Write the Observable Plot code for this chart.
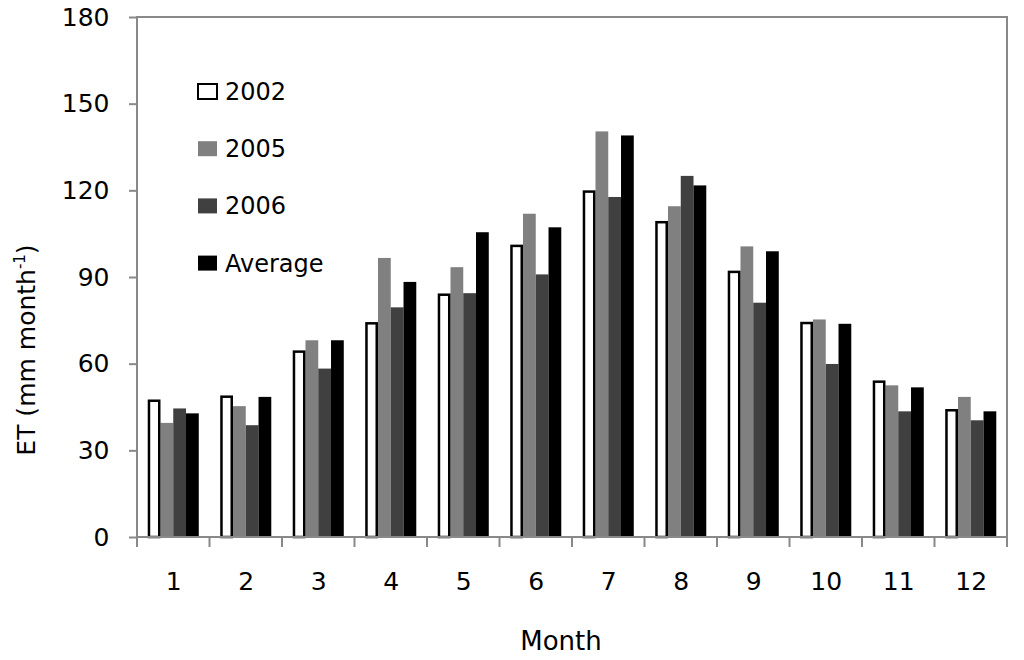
<!DOCTYPE html>
<html>
<head>
<meta charset="utf-8">
<script src="https://cdn.jsdelivr.net/npm/d3@7"></script>
<script src="https://cdn.jsdelivr.net/npm/@observablehq/plot@0.6"></script>
<style>
  html, body { margin: 0; padding: 0; background: #fff; }
  #chart { width: 1024px; height: 660px; }
</style>
</head>
<body>
<div id="chart"></div>
<script>
const months = [1, 2, 3, 4, 5, 6, 7, 8, 9, 10, 11, 12];
const series = ["2002", "2005", "2006", "Average"];
const et2002 = [47.6, 49.0, 64.6, 74.4, 84.3, 101.2, 120.0, 109.4, 92.2, 74.5, 54.2, 44.3];
const et2005 = [39.5, 45.3, 68.1, 96.6, 93.4, 111.9, 140.4, 114.5, 100.6, 75.3, 52.5, 48.5];
const et2006 = [44.5, 38.7, 58.3, 79.5, 84.4, 90.9, 117.7, 125.0, 81.1, 59.9, 43.5, 40.4];
const etAvg  = [42.8, 48.5, 68.1, 88.3, 105.5, 107.2, 139.0, 121.7, 98.9, 73.8, 51.8, 43.5];
const yTicks = [0, 30, 60, 90, 120, 150, 180];
const seriesColors = ["#ffffff", "#808080", "#404040", "#000000"];
const yLabel = "ET (mm month";
const yLabelSup = "-1";
const xLabel = "Month";

(function () {
const valuesBySeries = [et2002, et2005, et2006, etAvg];
const data = [];
series.forEach((s, si) => {
  months.forEach((m, mi) => data.push({month: m, series: s, value: valuesBySeries[si][mi]}));
});

const FONT = "DejaVu Sans";
const AXIS_GRAY = "#898989";

const chart = Plot.plot({
  width: 1024,
  height: 660,
  marginLeft: 137,
  marginRight: 17,
  marginTop: 17,
  marginBottom: 123,
  style: {fontFamily: FONT, fontSize: "25px", color: "#000", background: "#fff", overflow: "visible"},
  fx: {domain: months, padding: 0, round: false},
  x: {domain: series, paddingInner: 0, paddingOuter: 0.84, round: false, axis: null},
  y: {domain: [0, 180], round: false},
  color: {domain: series, range: seriesColors},
  marks: [
    Plot.barY(data.filter(d => d.series !== "2002"), {
      fx: "month", x: "series", y: "value", fill: "series"
    }),
    Plot.barY(data.filter(d => d.series === "2002"), {
      fx: "month", x: "series", y: "value", fill: "series",
      stroke: "#000", strokeWidth: 2.5, insetLeft: 1.25, insetRight: 1.25, insetTop: 1.25
    }),
    Plot.axisY({ticks: yTicks, tickSize: 8, tickPadding: 20, stroke: AXIS_GRAY, strokeWidth: 2, label: null, fontSize: 25, strokeOpacity: 1}),
    Plot.axisFx({anchor: "bottom", tickSize: 0, tickPadding: 35, label: null, fontSize: 25})
  ]
});

document.getElementById("chart").appendChild(chart);

// Plot-area frame and category boundary ticks, positioned by Plot's scales
const svg = d3.select(chart);
const fxS = chart.scale("fx");
const yS = chart.scale("y");
const pLeft = fxS.range[0], pRight = fxS.range[1];
const pBottom = yS.apply(0), pTop = yS.apply(180);
const g = svg.append("g").attr("stroke", AXIS_GRAY).attr("stroke-width", 2).attr("fill", "none");
g.append("rect").attr("x", pLeft).attr("y", pTop).attr("width", pRight - pLeft).attr("height", pBottom - pTop);
const bounds = months.map(m => fxS.apply(m)).concat([pRight]);
bounds.forEach(b => g.append("line").attr("x1", b).attr("x2", b).attr("y1", pBottom).attr("y2", pBottom + 10));

// y-axis title with superscript
const yt = svg.append("text")
  .attr("transform", `translate(35,${(pTop + pBottom) / 2 + 73}) rotate(-90)`)
  .attr("text-anchor", "middle")
  .attr("font-family", FONT).attr("font-size", 25).attr("fill", "#000");
yt.append("tspan").text(yLabel);
yt.append("tspan").attr("font-size", 15).attr("dy", -10).text(yLabelSup);
yt.append("tspan").attr("dy", 10).text(")");

// x-axis title
svg.append("text")
  .attr("x", (pLeft + pRight) / 2 - 11).attr("y", 650)
  .attr("text-anchor", "middle")
  .attr("font-family", FONT).attr("font-size", 26).attr("fill", "#000")
  .text(xLabel);

// legend inside plot area
const lg = svg.append("g");
series.forEach((s, i) => {
  const yy = 100 + i * 57.2;
  lg.append("rect").attr("x", 198).attr("y", yy - 16).attr("width", 19).attr("height", 15)
    .attr("fill", seriesColors[i])
    .attr("stroke", i === 0 ? "#000" : "none").attr("stroke-width", 2);
  lg.append("text").attr("x", 225).attr("y", yy)
    .attr("text-anchor", "start")
    .attr("font-family", FONT).attr("font-size", 24).attr("fill", "#000").text(s);
});
})();
</script>
</body>
</html>
